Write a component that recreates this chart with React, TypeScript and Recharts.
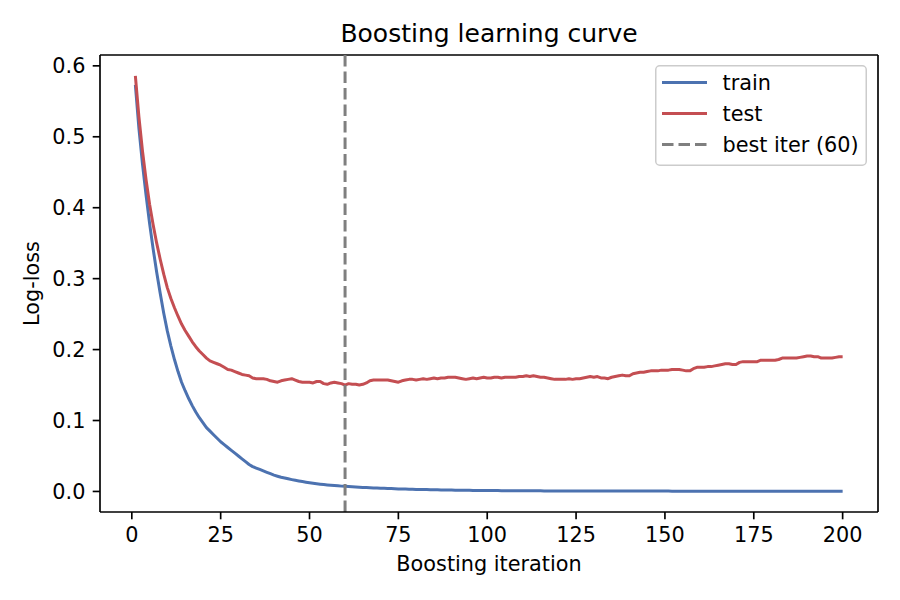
import React from 'react';
import {
  LineChart,
  Line,
  XAxis,
  YAxis,
  ReferenceLine,
  Legend,
  Label,
  Customized,
} from 'recharts';

const FONT = "'DejaVu Sans', 'Liberation Sans', sans-serif";
const BLUE = '#4c72b0';
const RED = '#c44e52';
const GRAY = '#7f7f7f';
const SPINE = 1.67;

// Boosting iterations 1..200
const iterations = Array.from({ length: 200 }, (_, i) => i + 1);

// Log-loss on the training set per iteration
const trainLoss = [
  0.573, 0.512, 0.462, 0.418, 0.378, 0.342, 0.309, 0.279, 0.251, 0.226,
  0.205, 0.186, 0.169, 0.154, 0.142, 0.131, 0.121, 0.112, 0.104, 0.097,
  0.09, 0.085, 0.08, 0.075, 0.07, 0.066, 0.062, 0.058, 0.054, 0.05,
  0.046, 0.042, 0.038, 0.035, 0.033, 0.031, 0.029, 0.027, 0.025, 0.023,
  0.0215, 0.02, 0.019, 0.0178, 0.0167, 0.0157, 0.0148, 0.0139, 0.0131, 0.0123,
  0.0116, 0.0109, 0.0103, 0.0097, 0.0092, 0.0087, 0.0083, 0.0079, 0.0075, 0.0072,
  0.0069, 0.0066, 0.0063, 0.006, 0.0057, 0.0055, 0.0053, 0.005, 0.0048, 0.0046,
  0.0044, 0.0042, 0.004, 0.0038, 0.0036, 0.0035, 0.0033, 0.0032, 0.003, 0.0029,
  0.0028, 0.0027, 0.0026, 0.0025, 0.0024, 0.0023, 0.0022, 0.0021, 0.002, 0.0019,
  0.00182, 0.00175, 0.00168, 0.00161, 0.00155, 0.00149, 0.00143, 0.00138, 0.00133, 0.00128,
  0.00124, 0.0012, 0.00116, 0.00112, 0.00108, 0.00105, 0.00102, 0.00099, 0.00096, 0.00093,
  0.0009, 0.00088, 0.00086, 0.00084, 0.00082, 0.0008, 0.00078, 0.00076, 0.00074, 0.00072,
  0.00071, 0.0007, 0.00068, 0.00067, 0.00066, 0.00065, 0.00064, 0.00063, 0.00062, 0.00061,
  0.0006, 0.00059, 0.00058, 0.00057, 0.00056, 0.00055, 0.00055, 0.00054, 0.00053, 0.00052,
  0.00052, 0.00051, 0.0005, 0.0005, 0.00049, 0.00048, 0.00048, 0.00047, 0.00047, 0.00046,
  0.00046, 0.00045, 0.00045, 0.00044, 0.00044, 0.00043, 0.00043, 0.00042, 0.00042, 0.00041,
  0.00041, 0.00041, 0.0004, 0.0004, 0.0004, 0.00039, 0.00039, 0.00039, 0.00038, 0.00038,
  0.00038, 0.00037, 0.00037, 0.00037, 0.00036, 0.00036, 0.00036, 0.00036, 0.00035, 0.00035,
  0.00035, 0.00035, 0.00034, 0.00034, 0.00034, 0.00034, 0.00033, 0.00033, 0.00033, 0.00033,
  0.00033, 0.00032, 0.00032, 0.00032, 0.00032, 0.00032, 0.00031, 0.00031, 0.00031, 0.00031,
];

// Log-loss on the held-out test set per iteration
const testLoss = [
  0.586, 0.528, 0.48, 0.44, 0.405, 0.376, 0.35, 0.327, 0.306, 0.287,
  0.272, 0.259, 0.247, 0.236, 0.227, 0.219, 0.211, 0.204, 0.198, 0.193,
  0.188, 0.184, 0.182, 0.18, 0.178, 0.175, 0.172, 0.171, 0.169, 0.167,
  0.165, 0.164, 0.163, 0.16, 0.159, 0.159, 0.159, 0.158, 0.156, 0.155,
  0.154, 0.156, 0.157, 0.158, 0.159, 0.157, 0.155, 0.154, 0.154, 0.154,
  0.153, 0.155, 0.155, 0.152, 0.151, 0.153, 0.154, 0.153, 0.152, 0.15,
  0.152, 0.151, 0.151, 0.15, 0.151, 0.153, 0.156, 0.157, 0.157, 0.157,
  0.157, 0.157, 0.156, 0.155, 0.154, 0.156, 0.157, 0.158, 0.158, 0.157,
  0.158, 0.159, 0.158, 0.159, 0.16, 0.159, 0.16, 0.16, 0.161, 0.161,
  0.161, 0.16, 0.159, 0.158, 0.159, 0.16, 0.159, 0.16, 0.161, 0.16,
  0.16, 0.161, 0.161, 0.16, 0.161, 0.161, 0.161, 0.161, 0.162, 0.162,
  0.163, 0.162, 0.163, 0.162, 0.161, 0.161, 0.16, 0.159, 0.158, 0.158,
  0.158, 0.158, 0.159, 0.158, 0.159, 0.159, 0.16, 0.161, 0.162, 0.161,
  0.162, 0.16, 0.16, 0.159, 0.161, 0.162, 0.163, 0.164, 0.163, 0.163,
  0.166, 0.167, 0.168, 0.168, 0.169, 0.17, 0.17, 0.17, 0.171, 0.171,
  0.171, 0.172, 0.172, 0.172, 0.171, 0.17, 0.17, 0.173, 0.175, 0.175,
  0.175, 0.176, 0.176, 0.177, 0.178, 0.179, 0.18, 0.18, 0.179, 0.179,
  0.182, 0.183, 0.183, 0.183, 0.183, 0.183, 0.185, 0.185, 0.185, 0.185,
  0.185, 0.186, 0.188, 0.188, 0.188, 0.188, 0.188, 0.189, 0.19, 0.191,
  0.191, 0.19, 0.19, 0.188, 0.188, 0.188, 0.188, 0.189, 0.19, 0.19,
];

const xTicks = [0, 25, 50, 75, 100, 125, 150, 175, 200];
const yTicks = [0, 0.1, 0.2, 0.3, 0.4, 0.5, 0.6];
const bestIter = 60;

const chartTitle = 'Boosting learning curve';
const xLabel = 'Boosting iteration';
const yLabel = 'Log-loss';

const data = iterations.map((iter, i) => ({
  iter,
  train: trainLoss[i],
  test: testLoss[i],
}));

// 5% padding around the data range on both axes
const xMin = Math.min(...iterations);
const xMax = Math.max(...iterations);
const xPad = (xMax - xMin) * 0.05;
const xDomain: [number, number] = [xMin - xPad, xMax + xPad];

const allLoss = [...trainLoss, ...testLoss];
const yMin = Math.min(...allLoss);
const yMax = Math.max(...allLoss);
const yPad = (yMax - yMin) * 0.05;
const yDomain: [number, number] = [yMin - yPad, yMax + yPad];

const legendItems = [
  { label: 'train', color: BLUE, dash: undefined as string | undefined },
  { label: 'test', color: RED, dash: undefined as string | undefined },
  { label: `best iter (${bestIter})`, color: GRAY, dash: '11.5 5' },
];

const tickStyle = { fontFamily: FONT, fontSize: 20.8, fill: '#000' };

function LegendBox() {
  return (
    <svg width={212} height={101} style={{ display: 'block' }}>
      <rect
        x={0.75}
        y={0.75}
        width={210.5}
        height={99.5}
        rx={4}
        fill="rgba(255,255,255,0.8)"
        stroke="#cccccc"
        strokeWidth={1.5}
      />
      {legendItems.map((item, i) => {
        const cy = 17.5 + i * 31;
        return (
          <g key={item.label}>
            <line
              x1={7}
              x2={52}
              y1={cy}
              y2={cy}
              stroke={item.color}
              strokeWidth={3}
              strokeDasharray={item.dash}
            />
            <text
              x={67.5}
              y={cy}
              dy="0.35em"
              fontFamily={FONT}
              fontSize={20.8}
              fill="#000"
            >
              {item.label}
            </text>
          </g>
        );
      })}
    </svg>
  );
}

function Title() {
  return (
    <text
      x={489}
      y={42}
      textAnchor="middle"
      fontFamily={FONT}
      fontSize={25}
      fill="#000"
    >
      {chartTitle}
    </text>
  );
}

function XTitle(props: any) {
  const vb = props.viewBox || { x: 100, y: 512, width: 778 };
  return (
    <text
      x={vb.x + vb.width / 2}
      y={vb.y + 59}
      textAnchor="middle"
      fontFamily={FONT}
      fontSize={20.8}
      fill="#000"
    >
      {xLabel}
    </text>
  );
}

function YTitle(props: any) {
  const vb = props.viewBox || { y: 55, height: 457 };
  const cx = 39;
  const cy = vb.y + vb.height / 2;
  return (
    <text
      x={cx}
      y={cy}
      transform={`rotate(-90 ${cx} ${cy})`}
      textAnchor="middle"
      fontFamily={FONT}
      fontSize={20.8}
      fill="#000"
    >
      {yLabel}
    </text>
  );
}

export default function App() {
  return (
    <div
      style={{
        position: 'absolute',
        left: 0,
        top: 0,
        width: 900,
        height: 600,
        background: '#fff',
      }}
    >
      <LineChart
        width={900}
        height={600}
        data={data}
        margin={{ top: 55, right: 22, bottom: 0, left: 0 }}
      >
        <XAxis
          dataKey="iter"
          type="number"
          domain={xDomain}
          ticks={xTicks}
          height={88}
          tick={tickStyle}
          tickSize={7.3}
          tickMargin={8}
          tickLine={{ stroke: '#000', strokeWidth: SPINE }}
          axisLine={{ stroke: '#000', strokeWidth: SPINE }}
        >
          <Label content={<XTitle />} />
        </XAxis>
        <YAxis
          type="number"
          domain={yDomain}
          ticks={yTicks}
          width={100}
          tick={tickStyle}
          tickSize={7.3}
          tickMargin={7.3}
          tickFormatter={(v: number) => v.toFixed(1)}
          tickLine={{ stroke: '#000', strokeWidth: SPINE }}
          axisLine={{ stroke: '#000', strokeWidth: SPINE }}
        >
          <Label content={<YTitle />} />
        </YAxis>
        {/* top and right spines of the axes frame */}
        <ReferenceLine y={yDomain[1]} stroke="#000" strokeWidth={SPINE} />
        <ReferenceLine x={xDomain[1]} stroke="#000" strokeWidth={SPINE} />
        <Line
          dataKey="train"
          name="train"
          stroke={BLUE}
          strokeWidth={3}
          dot={false}
          strokeLinejoin="round"
          isAnimationActive={false}
        />
        <Line
          dataKey="test"
          name="test"
          stroke={RED}
          strokeWidth={3}
          dot={false}
          strokeLinejoin="round"
          isAnimationActive={false}
        />
        <ReferenceLine
          x={bestIter}
          stroke={GRAY}
          strokeWidth={3}
          strokeDasharray="11.5 5"
        />
        <Legend
          layout="vertical"
          verticalAlign="middle"
          align="center"
          content={<LegendBox />}
          wrapperStyle={{ left: 655, top: 65, width: 212, height: 101 }}
        />
        <Customized component={<Title />} />
      </LineChart>
    </div>
  );
}
